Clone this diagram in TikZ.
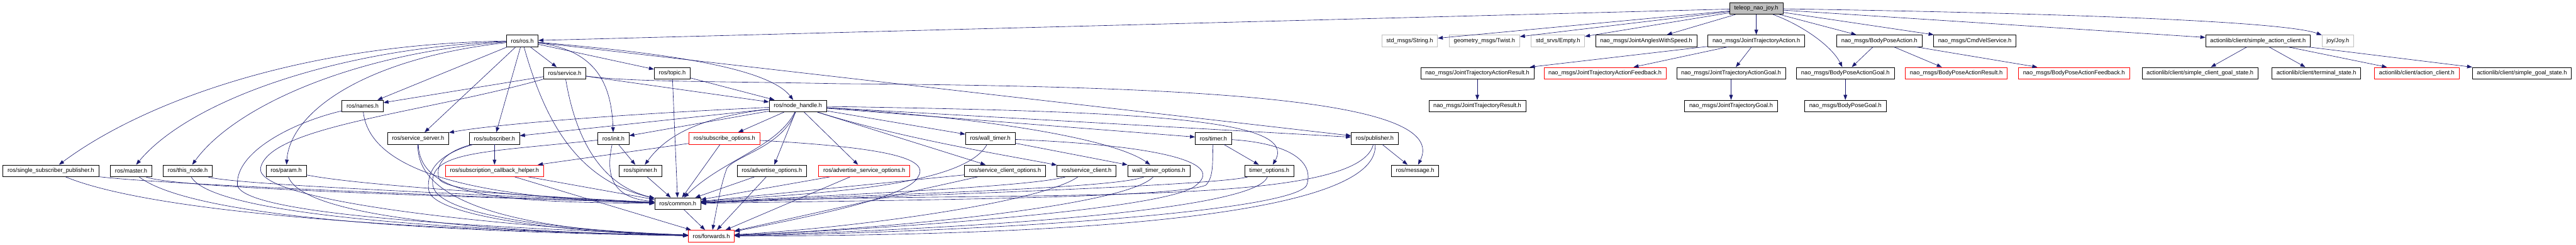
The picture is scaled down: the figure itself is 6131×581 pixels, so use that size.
\documentclass[tikz,border=0pt]{standalone}
\usepackage{fontspec}
\setmainfont{Liberation Sans}
\usetikzlibrary{arrows.meta}
\definecolor{depblue}{HTML}{191970}
\definecolor{nodegray}{HTML}{BFBFBF}
\begin{document}
\begin{tikzpicture}[x=0.75pt, y=-0.75pt, font=\fontsize{10.4}{12}\selectfont,
	hdr/.style={draw=black, fill=white, line width=0.75pt, minimum height=21pt, inner xsep=8.2pt, inner ysep=0pt},
	hdrred/.style={hdr, draw=red},
	hdrgray/.style={hdr, draw=nodegray},
	hdrroot/.style={hdr, fill=nodegray},
	dep/.style={draw=depblue, line width=0.7pt, -{Triangle[length=9pt, width=6.5pt]}}]
	\fill[white] (0,0) rectangle (6131,581);
	\useasboundingbox (0,0) rectangle (6131,581);
	% Nodo raíz
	\node[hdrroot] (teleop) at (4180,20) {teleop\_nao\_joy.h};
	% Fila 1
	\node[hdr] (ros) at (1243,97) {ros/ros.h};
	\node[hdrgray] (string) at (3355,97) {std\_msgs/String.h};
	\node[hdrgray] (twist) at (3533,97) {geometry\_msgs/Twist.h};
	\node[hdrgray] (empty) at (3708,97) {std\_srvs/Empty.h};
	\node[hdr] (angles) at (3918,97) {nao\_msgs/JointAnglesWithSpeed.h};
	\node[hdr] (jtaction) at (4180,97) {nao\_msgs/JointTrajectoryAction.h};
	\node[hdr] (bpaction) at (4473,97) {nao\_msgs/BodyPoseAction.h};
	\node[hdr] (cmdvel) at (4700,97) {nao\_msgs/CmdVelService.h};
	\node[hdr] (sac) at (5374,97) {actionlib/client/simple\_action\_client.h};
	\node[hdrgray] (joy) at (5564,97) {joy/Joy.h};
	% Fila 2
	\node[hdr] (service) at (1344,174) {ros/service.h};
	\node[hdr] (topic) at (1600,174) {ros/topic.h};
	\node[hdr] (jtresult) at (3516,174) {nao\_msgs/JointTrajectoryActionResult.h};
	\node[hdrred] (jtfeedback) at (3820,174) {nao\_msgs/JointTrajectoryActionFeedback.h};
	\node[hdr] (jtgoal) at (4120,174) {nao\_msgs/JointTrajectoryActionGoal.h};
	\node[hdr] (bpgoal) at (4392,174) {nao\_msgs/BodyPoseActionGoal.h};
	\node[hdrred] (bpresult) at (4656,174) {nao\_msgs/BodyPoseActionResult.h};
	\node[hdrred] (bpfeedback) at (4936,174) {nao\_msgs/BodyPoseActionFeedback.h};
	\node[hdr] (scgs) at (5236,174) {actionlib/client/simple\_client\_goal\_state.h};
	\node[hdr] (terminal) at (5513,174) {actionlib/client/terminal\_state.h};
	\node[hdrred] (actionclient) at (5752,174) {actionlib/client/action\_client.h};
	\node[hdr] (sgs) at (6002,174) {actionlib/client/simple\_goal\_state.h};
	% Fila 3
	\node[hdr] (names) at (863,252) {ros/names.h};
	\node[hdr] (nodehandle) at (1899,252) {ros/node\_handle.h};
	\node[hdr] (jtresultmsg) at (3516,252) {nao\_msgs/JointTrajectoryResult.h};
	\node[hdr] (jtgoalmsg) at (4120,252) {nao\_msgs/JointTrajectoryGoal.h};
	\node[hdr] (bpgoalmsg) at (4392,252) {nao\_msgs/BodyPoseGoal.h};
	% Fila 4
	\node[hdr] (serviceserver) at (995,329) {ros/service\_server.h};
	\node[hdr] (subscriber) at (1177,329) {ros/subscriber.h};
	\node[hdr] (init) at (1460,329) {ros/init.h};
	\node[hdrred] (subopts) at (1724,329) {ros/subscribe\_options.h};
	\node[hdr] (walltimer) at (2357,329) {ros/wall\_timer.h};
	\node[hdr] (timer) at (2888,329) {ros/timer.h};
	\node[hdr] (publisher) at (3272,329) {ros/publisher.h};
	% Fila 5
	\node[hdr] (ssp) at (121,406) {ros/single\_subscriber\_publisher.h};
	\node[hdr] (master) at (312,406) {ros/master.h};
	\node[hdr] (thisnode) at (447,406) {ros/this\_node.h};
	\node[hdr] (param) at (681,406) {ros/param.h};
	\node[hdrred] (sch) at (1177,406) {ros/subscription\_callback\_helper.h};
	\node[hdr] (spinner) at (1524,406) {ros/spinner.h};
	\node[hdr] (advopts) at (1837,406) {ros/advertise\_options.h};
	\node[hdrred] (advsrvopts) at (2057,406) {ros/advertise\_service\_options.h};
	\node[hdr] (scopts) at (2392,406) {ros/service\_client\_options.h};
	\node[hdr] (sclient) at (2586,406) {ros/service\_client.h};
	\node[hdr] (wtopts) at (2758,406) {wall\_timer\_options.h};
	\node[hdr] (topts) at (3021,406) {timer\_options.h};
	\node[hdr] (message) at (3368,406) {ros/message.h};
	% Filas 6 y 7
	\node[hdr] (common) at (1613,484) {ros/common.h};
	\node[hdrred] (forwards) at (1693,561) {ros/forwards.h};

	% Dependencias de teleop_nao_joy.h
	\draw[dep] (teleop) -- (ros);
	\draw[dep] (teleop) -- (string);
	\draw[dep] (teleop) -- (twist);
	\draw[dep] (teleop) -- (empty);
	\draw[dep] (teleop) -- (angles);
	\draw[dep] (teleop) -- (jtaction);
	\draw[dep] (teleop) .. controls (4290,60) and (4360,110) .. (bpgoal);
	\draw[dep] (teleop) -- (bpaction);
	\draw[dep] (teleop) -- (cmdvel);
	\draw[dep] (teleop) -- (sac);
	\draw[dep] (teleop) .. controls (4700,28) and (5420,45) .. (joy);
	% Mensajes nao_msgs
	\draw[dep] (jtaction) -- (jtresult);
	\draw[dep] (jtaction) -- (jtfeedback);
	\draw[dep] (jtaction) -- (jtgoal);
	\draw[dep] (bpaction) -- (bpgoal);
	\draw[dep] (bpaction) -- (bpresult);
	\draw[dep] (bpaction) -- (bpfeedback);
	\draw[dep] (jtresult) -- (jtresultmsg);
	\draw[dep] (jtgoal) -- (jtgoalmsg);
	\draw[dep] (bpgoal) -- (bpgoalmsg);
	% actionlib
	\draw[dep] (sac) -- (scgs);
	\draw[dep] (sac) -- (terminal);
	\draw[dep] (sac) -- (actionclient);
	\draw[dep] (sac) -- (sgs);

	% ros/ros.h
	\draw[dep] (ros) -- (service);
	\draw[dep] (ros) -- (topic);
	\draw[dep] (ros) .. controls (1500,120) and (1820,150) .. (nodehandle);
	\draw[dep] (ros) -- (publisher);
	\draw[dep] (ros) -- (names);
	\draw[dep] (ros) .. controls (700,105) and (330,250) .. (ssp);
	\draw[dep] (ros) .. controls (800,115) and (450,240) .. (master);
	\draw[dep] (ros) .. controls (850,125) and (560,250) .. (thisnode);
	\draw[dep] (ros) .. controls (860,140) and (690,270) .. (param);
	\draw[dep] (ros) -- (serviceserver);
	\draw[dep] (ros) -- (subscriber);
	\draw[dep] (ros) .. controls (1420,120) and (1455,200) .. (init);
	\draw[dep] (ros) .. controls (1300,300) and (1380,430) .. (common);
	% ros/service.h y ros/topic.h
	\draw[dep] (service) -- (names);
	\draw[dep] (service) -- (nodehandle);
	\draw[dep] (service) .. controls (1500,195) and (1700,193) .. (2000,199)
		.. controls (2900,205) and (3450,240) .. (message);
	\draw[dep] (service) .. controls (1370,330) and (1430,440) .. (common);
	\draw[dep] (service) .. controls (1000,270) and (640,300) .. (620,400)
		.. controls (610,480) and (1200,540) .. (forwards);
	\draw[dep] (topic) -- (nodehandle);
	\draw[dep] (topic) -- (common);
	% ros/node_handle.h
	\draw[dep] (nodehandle) .. controls (1400,275) and (1150,300) .. (serviceserver);
	\draw[dep] (nodehandle) -- (subscriber);
	\draw[dep] (nodehandle) -- (init);
	\draw[dep] (nodehandle) -- (subopts);
	\draw[dep] (nodehandle) .. controls (1650,280) and (1580,330) .. (spinner);
	\draw[dep] (nodehandle) -- (advopts);
	\draw[dep] (nodehandle) -- (advsrvopts);
	\draw[dep] (nodehandle) -- (scopts);
	\draw[dep] (nodehandle) .. controls (2150,330) and (2400,370) .. (sclient);
	\draw[dep] (nodehandle) .. controls (2350,280) and (2650,330) .. (wtopts);
	\draw[dep] (nodehandle) -- (walltimer);
	\draw[dep] (nodehandle) -- (timer);
	\draw[dep] (nodehandle) .. controls (2750,265) and (3090,285) .. (topts);
	\draw[dep] (nodehandle) -- (publisher);
	\draw[dep] (nodehandle) .. controls (1850,350) and (1720,380) .. (common);
	\draw[dep] (nodehandle) .. controls (1860,350) and (1750,370) .. (1730,400)
		.. controls (1715,440) and (1705,500) .. (forwards);
	% Fila 4
	\draw[dep] (init) -- (spinner);
	\draw[dep] (init) .. controls (1440,420) and (1460,470) .. (common);
	\draw[dep] (init) .. controls (1150,362) and (1020,360) .. (1030,440)
		.. controls (1040,520) and (1400,550) .. (forwards);
	\draw[dep] (subscriber) -- (sch);
	\draw[dep] (subscriber) .. controls (1060,360) and (1035,390) .. (1045,425)
		.. controls (1060,460) and (1350,470) .. (common);
	\draw[dep] (subscriber) .. controls (1050,365) and (1015,400) .. (1020,450)
		.. controls (1025,520) and (1400,555) .. (forwards);
	\draw[dep] (subopts) -- (sch);
	\draw[dep] (subopts) -- (common);
	\draw[dep] (subopts) .. controls (2100,350) and (2215,375) .. (2185,420)
		.. controls (2165,470) and (1900,520) .. (forwards);
	\draw[dep] (walltimer) -- (wtopts);
	\draw[dep] (walltimer) .. controls (2290,450) and (1900,460) .. (common);
	\draw[dep] (walltimer) .. controls (2750,345) and (2930,385) .. (2840,445)
		.. controls (2750,500) and (2100,545) .. (forwards);
	\draw[dep] (timer) -- (topts);
	\draw[dep] (timer) .. controls (2885,380) and (2890,420) .. (2870,440)
		.. controls (2800,470) and (2200,475) .. (common);
	\draw[dep] (timer) .. controls (3060,340) and (3130,380) .. (3110,440)
		.. controls (3080,500) and (2400,550) .. (forwards);
	\draw[dep] (publisher) -- (message);
	\draw[dep] (publisher) .. controls (3230,500) and (2400,450) .. (common);
	\draw[dep] (publisher) .. controls (3285,520) and (2500,560) .. (forwards);
	\draw[dep] (names) .. controls (880,400) and (1100,470) .. (common);
	\draw[dep] (names) .. controls (700,290) and (560,360) .. (565,440)
		.. controls (580,520) and (1300,545) .. (forwards);
	\draw[dep] (serviceserver) .. controls (1000,470) and (1200,480) .. (common);
	\draw[dep] (serviceserver) .. controls (990,500) and (1300,550) .. (forwards);
	% Fila 5
	\draw[dep] (ssp) .. controls (400,440) and (1200,470) .. (common);
	\draw[dep] (ssp) .. controls (350,500) and (900,545) .. (forwards);
	\draw[dep] (master) .. controls (420,450) and (1200,470) .. (common);
	\draw[dep] (master) .. controls (450,510) and (950,550) .. (forwards);
	\draw[dep] (thisnode) .. controls (560,440) and (1200,465) .. (common);
	\draw[dep] (thisnode) .. controls (500,500) and (950,545) .. (forwards);
	\draw[dep] (param) .. controls (850,440) and (1250,465) .. (common);
	\draw[dep] (param) .. controls (720,510) and (1100,550) .. (forwards);
	\draw[dep] (sch) -- (common);
	\draw[dep] (sch) -- (forwards);
	\draw[dep] (spinner) -- (common);
	\draw[dep] (advopts) -- (common);
	\draw[dep] (advopts) -- (forwards);
	\draw[dep] (advsrvopts) -- (common);
	\draw[dep] (advsrvopts) -- (forwards);
	\draw[dep] (scopts) -- (common);
	\draw[dep] (scopts) -- (forwards);
	\draw[dep] (sclient) .. controls (2450,445) and (1950,465) .. (common);
	\draw[dep] (sclient) .. controls (2480,480) and (2050,540) .. (forwards);
	\draw[dep] (wtopts) .. controls (2650,450) and (2000,465) .. (common);
	\draw[dep] (wtopts) .. controls (2680,490) and (2100,545) .. (forwards);
	\draw[dep] (topts) .. controls (2900,440) and (2200,465) .. (common);
	\draw[dep] (topts) .. controls (2990,500) and (2300,545) .. (forwards);
	\draw[dep] (common) -- (forwards);
\end{tikzpicture}
\end{document}
